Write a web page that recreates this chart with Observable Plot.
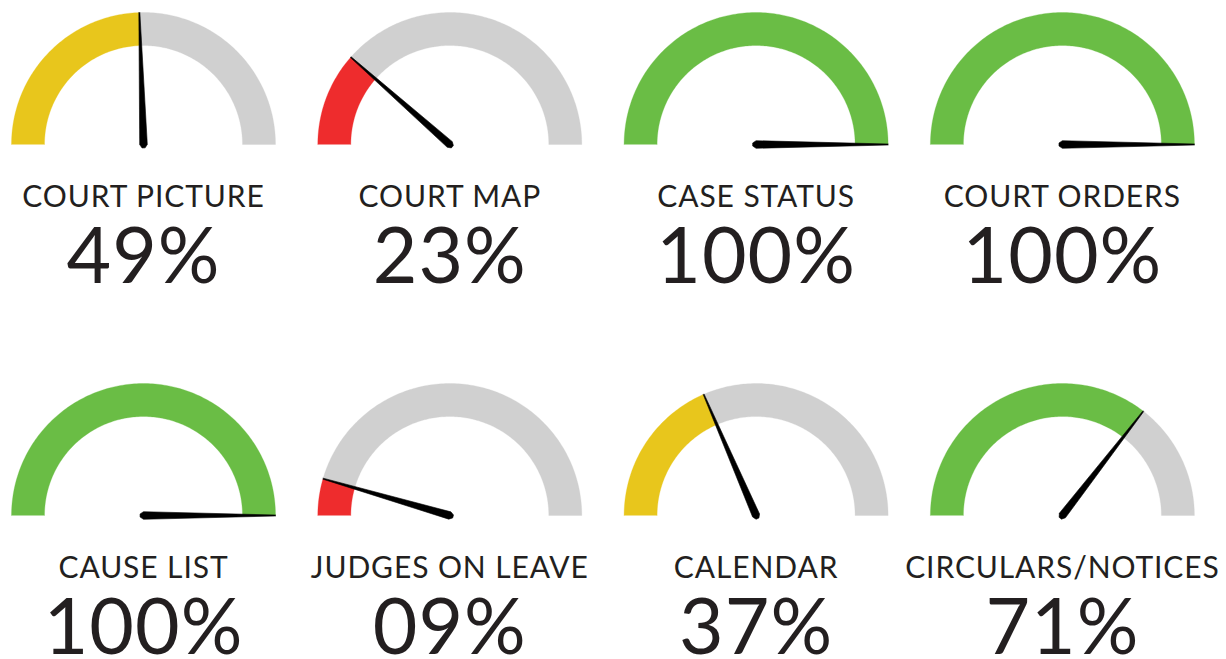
<!DOCTYPE html>
<html>
<head>
<meta charset="utf-8">
<script src="https://cdn.jsdelivr.net/npm/d3@7"></script>
<script src="https://cdn.jsdelivr.net/npm/@observablehq/plot@0.6"></script>
<style>
  html, body { margin: 0; padding: 0; background: #ffffff; }
  #chart { width: 1226px; height: 659px; overflow: hidden; }
</style>
</head>
<body>
<div id="chart"></div>
<script>
// ---- data ----
const names = ["COURT PICTURE", "COURT MAP", "CASE STATUS", "COURT ORDERS",
               "CAUSE LIST", "JUDGES ON LEAVE", "CALENDAR", "CIRCULARS/NOTICES"];
const values = [49, 23, 100, 100, 100, 9, 37, 71];
const thresholds = [30, 50];                       // red below 30, yellow below 50, green otherwise
const bandColors = ["#EE2C2D", "#E8C61C", "#6ABD45"];
const trackColor = "#D0D0D0";
const needleColor = "#000000";
const textColor = "#231F20";

// ---- layout (in units of gauge outer radius) ----
const W = 1226, H = 659, R = 132;                  // pixels per unit
const COL = 306.3 / R, ROW = 371 / R;              // gauge spacing
const INNER = 0.75;                                // inner radius ratio
const ncols = 4;

const gauges = names.map((name, i) => {
  const v = values[i];
  const color = bandColors[d3.bisectRight(thresholds, v)];
  return {
    name, value: v, color,
    label: d3.format("02d")(v) + "%",
    cx: (i % ncols) * COL,
    cy: -Math.floor(i / ncols) * ROW
  };
});

const angle = v => Math.PI * (1 - v / 100);

function arcPoly(id, g, a0, a1, color) {
  const pts = [];
  const n = Math.max(2, Math.ceil(Math.abs(a0 - a1) / Math.PI * 180));
  for (let k = 0; k <= n; k++) {
    const a = a0 + (a1 - a0) * k / n;
    pts.push({id, color, x: g.cx + Math.cos(a), y: g.cy + Math.sin(a)});
  }
  for (let k = n; k >= 0; k--) {
    const a = a0 + (a1 - a0) * k / n;
    pts.push({id, color, x: g.cx + INNER * Math.cos(a), y: g.cy + INNER * Math.sin(a)});
  }
  return pts;
}

const arcs = [];
gauges.forEach((g, i) => {
  const av = angle(g.value);
  if (g.value > 0) arcs.push(...arcPoly("v" + i, g, Math.PI, av, g.color));
  if (g.value < 100) arcs.push(...arcPoly("t" + i, g, av, 0, trackColor));
});

const needles = [];
const hw = 3.8 / R, tipw = 0.5 / R;
gauges.forEach((g, i) => {
  const a = angle(g.value);
  const dx = Math.cos(a), dy = Math.sin(a);
  const px = -dy, py = dx;
  const pts = [
    [g.cx + dx + px * tipw, g.cy + dy + py * tipw],
    [g.cx + px * hw, g.cy + py * hw],
    [g.cx - dx * hw * 0.9 + px * hw * 0.4, g.cy - dy * hw * 0.9 + py * hw * 0.4],
    [g.cx - dx * hw * 0.9 - px * hw * 0.4, g.cy - dy * hw * 0.9 - py * hw * 0.4],
    [g.cx - px * hw, g.cy - py * hw],
    [g.cx + dx - px * tipw, g.cy + dy - py * tipw]
  ];
  pts.forEach(([x, y]) => needles.push({id: "n" + i, x, y}));
});

const plot = Plot.plot({
  width: W, height: H,
  marginTop: 0, marginRight: 0, marginBottom: 0, marginLeft: 0,
  x: {domain: [-143 / R, (W - 143) / R], axis: null},
  y: {domain: [(144 - H) / R, 144 / R], axis: null},
  color: {type: "identity"},
  style: {background: "#ffffff", fontFamily: "Lato, 'Open Sans', sans-serif"},
  marks: [
    Plot.line(arcs, {x: "x", y: "y", z: "id", fill: "color", stroke: "color", strokeWidth: 0.3}),
    Plot.line(needles, {x: "x", y: "y", z: "id", fill: needleColor, stroke: needleColor, strokeWidth: 0.6}),
    Plot.text(gauges, {
      x: "cx", y: d => d.cy - 62 / R, text: "name",
      fontSize: 30, lineAnchor: "bottom", fill: textColor, fontFamily: "Lato"
    }),
    Plot.text(gauges, {
      x: "cx", y: d => d.cy - 138 / R, text: "label",
      fontSize: 77, lineAnchor: "bottom", fill: textColor, fontFamily: "Lato"
    })
  ]
});
const textGroups = plot.querySelectorAll('g[aria-label="text"]');
if (textGroups[0]) textGroups[0].style.letterSpacing = "0.9px";
if (textGroups[1]) textGroups[1].style.letterSpacing = "1px";
document.getElementById("chart").appendChild(plot);
</script>
</body>
</html>
